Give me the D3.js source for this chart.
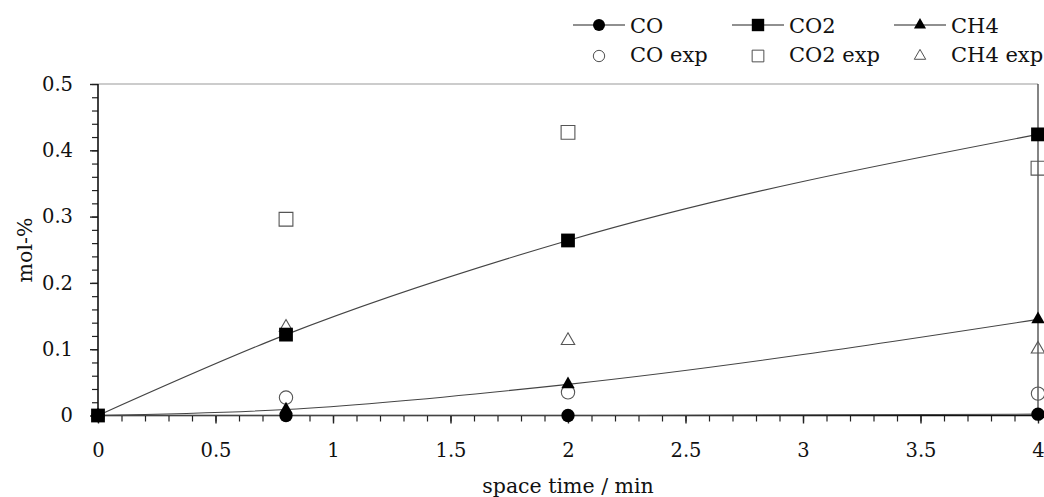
<!DOCTYPE html>
<html>
<head>
<meta charset="utf-8">
<script src="https://cdn.jsdelivr.net/npm/d3@7"></script>
<style>
  body { margin: 0; background: #fff; }
  svg text { font-family: "DejaVu Serif", serif; fill: #111; }
</style>
</head>
<body>
<svg id="main"></svg>
<script>
// space time / min
let times = [0, 0.8, 2, 4]
// model (lines + filled markers)
let coModel = [0, 0.000, 0.000, 0.002]
let co2Model = [0, 0.122, 0.264, 0.424]
let ch4Model = [0, 0.009, 0.047, 0.145]
// experimental (open markers)
let coExp = [0, 0.027, 0.035, 0.033]
let co2Exp = [0, 0.296, 0.427, 0.373]
let ch4Exp = [0, 0.133, 0.113, 0.100]

let xTicks = [0, 0.5, 1, 1.5, 2, 2.5, 3, 3.5, 4]
let yTicks = [0, 0.1, 0.2, 0.3, 0.4, 0.5]

let width = 1044
let height = 497
let padLeft = 98, padRight = 1038, padTop = 84, padBottom = 415.5

let svg = d3.select('#main').attr('width', width).attr('height', height)

let xScale = d3.scaleLinear().domain([0, 4]).range([padLeft, padRight])
let yScale = d3.scaleLinear().domain([0, 0.5]).range([padBottom, padTop])

const markers = {
    circle: d3.symbol().type(d3.symbolCircle).size(140),
    square: d3.symbol().type(d3.symbolSquare).size(190),
    triangle: d3.symbol().type(d3.symbolTriangle).size(78)
}

// frame top / right
svg.append('line').attr('x1', padLeft).attr('x2', padRight).attr('y1', padTop).attr('y2', padTop)
    .attr('stroke', '#999').attr('stroke-width', 1.2)
svg.append('line').attr('x1', padRight).attr('x2', padRight).attr('y1', padTop).attr('y2', padBottom)
    .attr('stroke', '#333').attr('stroke-width', 1.2)

// minor ticks
let xMinor = d3.range(0, 4.001, 0.1)
let yMinor = d3.range(0, 0.5001, 0.02)

let xAxis = d3.axisBottom(xScale).tickValues(xMinor).tickSize(6).tickFormat('')
svg.append('g').attr('transform', `translate(0, ${padBottom})`).call(xAxis)
    .call(g => g.select('.domain').remove())
    .selectAll('line').attr('stroke', '#222').attr('stroke-width', 1.2)

let xAxisMajor = d3.axisBottom(xScale).tickValues(xTicks).tickSize(8).tickPadding(20)
    .tickFormat(d => d3.format('')(d))
svg.append('g').attr('id', 'x-axis').attr('transform', `translate(0, ${padBottom})`).call(xAxisMajor)
    .call(g => g.select('.domain').remove())
    .call(g => g.selectAll('line').attr('stroke', '#222').attr('stroke-width', 1.4))
    .call(g => g.selectAll('text').attr('font-size', 19.5).attr('font-family', '"DejaVu Serif", serif').attr('fill', '#111'))

let yAxis = d3.axisLeft(yScale).tickValues(yMinor).tickSize(6).tickFormat('')
svg.append('g').attr('transform', `translate(${padLeft}, 0)`).call(yAxis)
    .call(g => g.select('.domain').remove())
    .selectAll('line').attr('stroke', '#222').attr('stroke-width', 1.2)

let yAxisMajor = d3.axisLeft(yScale).tickValues(yTicks).tickSize(8).tickPadding(17)
    .tickFormat(d => d3.format('')(d))
svg.append('g').attr('id', 'y-axis').attr('transform', `translate(${padLeft}, 0)`).call(yAxisMajor)
    .call(g => g.select('.domain').remove())
    .call(g => g.selectAll('line').attr('stroke', '#222').attr('stroke-width', 1.4))
    .call(g => g.selectAll('text').attr('font-size', 19.5).attr('font-family', '"DejaVu Serif", serif').attr('fill', '#111'))

// axis lines
svg.append('line').attr('x1', padLeft).attr('x2', padRight).attr('y1', padBottom).attr('y2', padBottom)
    .attr('stroke', '#111').attr('stroke-width', 1.6)
svg.append('line').attr('x1', padLeft).attr('x2', padLeft).attr('y1', padTop).attr('y2', padBottom)
    .attr('stroke', '#111').attr('stroke-width', 1.6)

// axis titles
svg.append('text').attr('x', (padLeft + padRight) / 2).attr('y', 493).attr('text-anchor', 'middle')
    .attr('font-size', 20.5).text('space time / min')
svg.append('text').attr('transform', `translate(32, 250) rotate(-90)`).attr('text-anchor', 'middle')
    .attr('font-size', 20.5).text('mol-%')

let series = [
    { name: 'CO', model: coModel, exp: coExp, shape: 'circle' },
    { name: 'CO2', model: co2Model, exp: co2Exp, shape: 'square' },
    { name: 'CH4', model: ch4Model, exp: ch4Exp, shape: 'triangle' }
]

let line = d3.line()
    .x((d, i) => xScale(times[i]))
    .y(d => yScale(d))
    .curve(d3.curveMonotoneX)

series.forEach(s => {
    svg.append('path').attr('d', line(s.model)).attr('fill', 'none')
        .attr('stroke', '#444').attr('stroke-width', 1.1)
})

// experimental markers
series.forEach(s => {
    svg.append('g').selectAll('path')
        .data(s.exp.slice(1))
        .enter()
        .append('path')
        .attr('d', markers[s.shape])
        .attr('transform', (d, i) => `translate(${xScale(times[i + 1])}, ${yScale(d)})`)
        .attr('fill', 'none')
        .attr('stroke', '#555')
        .attr('stroke-width', 1.1)
})

// model markers
series.forEach(s => {
    svg.append('g').selectAll('path')
        .data(s.model)
        .enter()
        .append('path')
        .attr('d', markers[s.shape])
        .attr('transform', (d, i) => `translate(${xScale(times[i])}, ${yScale(d)})`)
        .attr('fill', '#000')
})

// legend
let legendX = [599, 758, 920]
series.forEach((s, i) => {
    let cx = legendX[i]
    let g = svg.append('g')
    g.append('line').attr('x1', cx - 26).attr('x2', cx + 26).attr('y1', 25).attr('y2', 25)
        .attr('stroke', '#222').attr('stroke-width', 1.2)
    g.append('path').attr('d', markers[s.shape]).attr('transform', `translate(${cx}, 25) scale(0.9)`).attr('fill', '#000')
    g.append('text').attr('x', cx + 31).attr('y', 33).attr('font-size', 21).text(s.name)
    g.append('path').attr('d', markers[s.shape]).attr('transform', `translate(${cx}, 56) scale(0.85)`)
        .attr('fill', 'none').attr('stroke', '#444').attr('stroke-width', 1.1)
    g.append('text').attr('x', cx + 31).attr('y', 62).attr('font-size', 21).text(s.name + ' exp')
})
</script>
</body>
</html>
